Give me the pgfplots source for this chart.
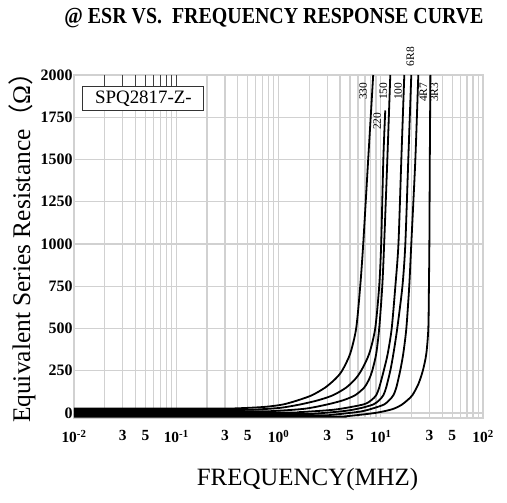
\documentclass[border=0pt]{standalone}
\usepackage{pgfplots}
\pgfplotsset{compat=1.18}
\usepackage{fontspec}
\setmainfont{Liberation Serif}
\newfontfamily\cjk{Noto Sans CJK SC}
\definecolor{gridgray}{gray}{0.82}
\pgfplotsset{curve/.style={black, solid, no markers, line width=1.8bp, smooth, tension=0.45}}
\begin{document}
\begin{tikzpicture}
\useasboundingbox (-74bp,-85bp) rectangle (433bp,418bp);
\begin{axis}[
  at={(0,0)}, anchor=south west,
  scale only axis, width=409bp, height=343bp,
  xmode=log, xmin=0.01, xmax=100, ymin=-30, ymax=2000,
  clip=false,
  axis line style={gridgray, line width=1.3bp},
  grid=both,
  major grid style={gridgray, line width=1.3bp},
  minor grid style={gridgray, line width=1.3bp},
  major tick length=0pt, minor tick length=0pt,
  xtick={0.01,0.03,0.05,0.1,0.3,0.5,1,3,5,10,30,50,100},
  xticklabels={\textbf{10}\textsuperscript{\textbf{-2}},\textbf{3},\textbf{5},\textbf{10}\textsuperscript{\textbf{-1}},\textbf{3},\textbf{5},\textbf{10}\textsuperscript{\textbf{0}},\textbf{3},\textbf{5},\textbf{10}\textsuperscript{\textbf{1}},\textbf{3},\textbf{5},\textbf{10}\textsuperscript{\textbf{2}}},
  minor xtick={0.02,0.04,0.06,0.07,0.08,0.09,0.2,0.4,0.6,0.7,0.8,0.9,2,4,6,7,8,9,20,40,60,70,80,90},
  ytick={0,250,500,750,1000,1250,1500,1750,2000},
  yticklabels={0,250,500,750,1000,1250,1500,1750,2000},
  xticklabel style={font=\fontsize{15.5}{15.5}\selectfont, yshift=-9bp},
  yticklabel style={font=\bfseries\fontsize{16}{16}\selectfont, xshift=2bp},
]
% 330
\addplot[curve] coordinates {
(0.01,26)(0.25,26)(0.42,28)(0.74,36)(1.107,50)(1.553,75)(2.13,105)(2.86,150)(3.58,200)(4.19,250)(5.02,350)(5.75,500)(6.30,750)(6.74,1000)(7.54,1500)(8.44,2000)};
% 220
\addplot[curve] coordinates {
(0.01,18)(0.35,18)(0.588,20)(1.034,30)(1.624,50)(2.44,75)(3.42,105)(4.59,150)(5.62,200)(6.44,250)(7.71,350)(8.83,500)(9.66,750)(10.1,1000)(10.6,1500)(11.07,1790)};
% 150
\addplot[curve] coordinates {
(0.01,10)(0.55,10)(0.924,12)(1.82,25)(2.99,50)(4.29,75)(5.62,105)(6.89,150)(7.71,200)(8.26,250)(9.03,350)(9.66,500)(10.35,750)(10.8,1000)(11.6,1500)(12.4,2000)};
% 100
\addplot[curve] coordinates {
(0.01,2)(1.0,2)(1.624,5)(3.58,20)(6.74,50)(8.07,75)(9.03,105)(9.66,150)(10.7,250)(11.7,350)(12.8,500)(13.9,750)(14.9,1000)(15.9,1500)(17.0,2000)};
% 6R8
\addplot[curve] coordinates {
(0.01,-6)(1.4,-6)(2.28,-4)(4.49,12)(6.3,28)(8.44,50)(9.66,75)(10.6,105)(11.3,150)(12.4,250)(13.3,350)(14.5,500)(16.3,750)(17.4,1000)(18.6,1500)(19.9,2000)};
% 4R7
\addplot[curve] coordinates {
(0.01,-14)(2.0,-14)(3.2,-12)(6.30,8)(8.5,28)(10.8,50)(12.1,75)(13.3,105)(14.2,150)(15.5,250)(16.6,350)(17.8,500)(19.0,750)(19.9,1000)(21.8,1500)(23.3,2000)};
% 3R3
\addplot[curve] coordinates {
(0.01,-22)(3.0,-22)(4.49,-20)(8.83,0)(12.97,22)(15.9,47)(18.2,75)(20.4,105)(23.3,170)(25.8,250)(27.9,350)(29.2,500)(29.6,750)(29.9,1000)(30.2,1500)(30.6,2000)};
% curve labels
\begin{scope}[every node/.style={rotate=90, anchor=east, inner sep=0.5bp, font=\fontsize{11.5}{11.5}\selectfont}]
\node at (axis cs:6.74,1958) {330};
\node at (axis cs:9.24,1781) {220};
\node at (axis cs:10.6,1958) {150};
\node at (axis cs:14.8,1958) {100};
\node at (axis cs:19.5,2170) {6R8};
\node at (axis cs:26.1,1958) {4R7};
\node at (axis cs:33.5,1958) {3R3};
\end{scope}
% box
\foreach \k in {0.02,0.03,0.04,0.05,0.06,0.07,0.08,0.09,0.1}{
  \edef\temp{\noexpand\draw[black!75, line width=0.9bp] (axis cs:\k,2000) -- (axis cs:\k,1930);}\temp
}
\node[draw=black!80, fill=white, line width=0.9bp, anchor=north west, inner sep=1.5bp, minimum width=121bp, minimum height=24bp, font=\fontsize{19}{19}\selectfont] at (axis cs:0.0121,1935) {SPQ2817-Z-};
% titles
\node[font=\bfseries\fontsize{20}{20}\selectfont] at ([yshift=57bp]rel axis cs:0.489,1) {\scalebox{1}[1.15]{@ ESR VS.\ \ FREQUENCY RESPONSE CURVE}};
\node[rotate=90, font=\fontsize{25.5}{25.5}\selectfont] at ([xshift=-52bp]rel axis cs:0,0.515) {Equivalent Series Resistance{\cjk （}Ω{\cjk ）}};
\node[font=\fontsize{25}{25}\selectfont] at ([yshift=-61.5bp]rel axis cs:0.571,0) {FREQUENCY(MHZ)};
\end{axis}
\end{tikzpicture}
\end{document}
